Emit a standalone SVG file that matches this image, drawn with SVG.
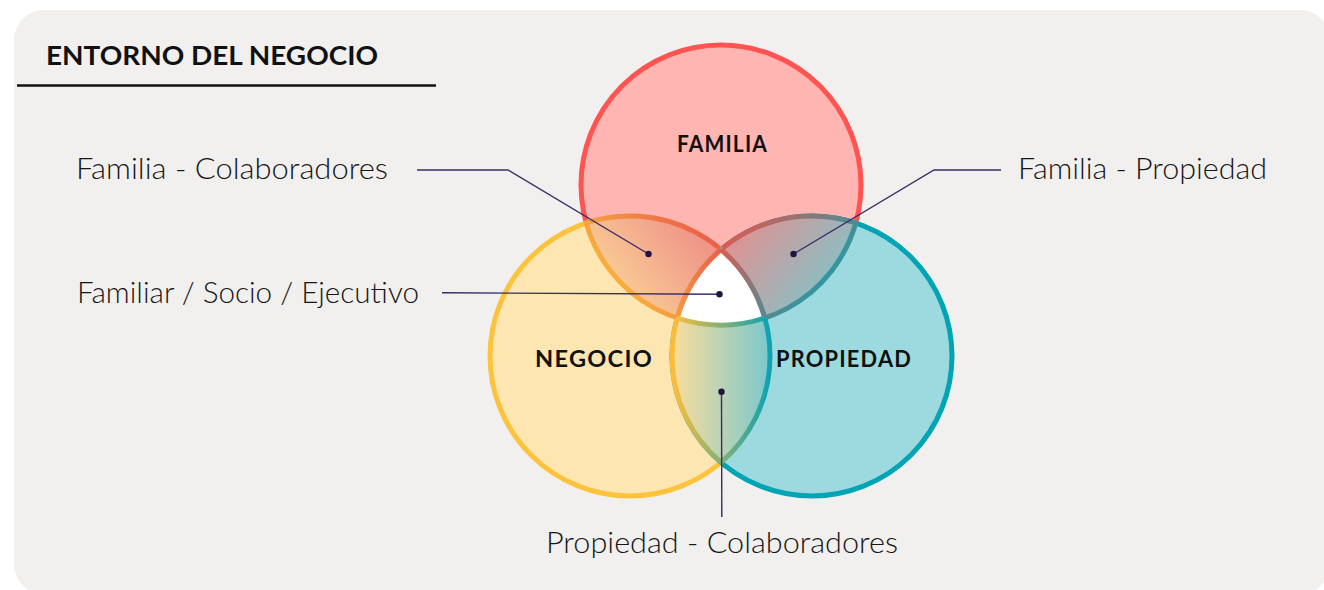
<svg xmlns="http://www.w3.org/2000/svg" width="1324" height="590" viewBox="0 0 1324 590">
  <style>
    .title { font-family: Lato, "Liberation Sans", sans-serif; font-weight: 700; font-size: 26px; fill: #111111; }
    .clabel { font-family: Lato, "Liberation Sans", sans-serif; font-weight: 700; font-size: 22px; fill: #111111; letter-spacing: 1.2px; }
    .label { font-family: Lato, "Liberation Sans", sans-serif; font-weight: 300; font-size: 29px; fill: #161616; }
    .leader { fill: none; stroke: #3A2C68; stroke-width: 1.4; }
    .dot { fill: #1F1442; }
    .ring { stroke-width: 5; }
    .edge { fill: none; stroke-width: 5; }
  </style>
  <defs>
    <linearGradient id="gFNs" gradientUnits="userSpaceOnUse" x1="718" y1="228" x2="615" y2="312">
      <stop offset="0" stop-color="#E9564D"/>
      <stop offset="1" stop-color="#FBBE3B"/>
    </linearGradient>
    <linearGradient id="gFNf" gradientUnits="userSpaceOnUse" x1="718" y1="228" x2="615" y2="312">
      <stop offset="0" stop-color="#ED8A86"/>
      <stop offset="1" stop-color="#FBD596"/>
    </linearGradient>
    <linearGradient id="gFPs" gradientUnits="userSpaceOnUse" x1="724" y1="228" x2="827" y2="312">
      <stop offset="0" stop-color="#E9564D"/>
      <stop offset="1" stop-color="#0FA2B0"/>
    </linearGradient>
    <linearGradient id="gFPf" gradientUnits="userSpaceOnUse" x1="724" y1="228" x2="827" y2="312">
      <stop offset="0" stop-color="#E98D8E"/>
      <stop offset="1" stop-color="#7DC6CB"/>
    </linearGradient>
    <linearGradient id="gNPs" gradientUnits="userSpaceOnUse" x1="674" y1="0" x2="768" y2="0">
      <stop offset="0" stop-color="#FBBE3B"/>
      <stop offset="1" stop-color="#0FA3B1"/>
    </linearGradient>
    <linearGradient id="gNPf" gradientUnits="userSpaceOnUse" x1="674" y1="0" x2="768" y2="0">
      <stop offset="0" stop-color="#F8DD9C"/>
      <stop offset="1" stop-color="#7DC8CD"/>
    </linearGradient>
  </defs>

  <rect x="14" y="10" width="1316" height="584" rx="30" fill="#F1F0EE"/>

  <g id="title">
    <text class="title" x="46" y="65" textLength="332" lengthAdjust="spacingAndGlyphs">ENTORNO DEL NEGOCIO</text>
    <line x1="17" y1="85.5" x2="436" y2="85.5" stroke="#111111" stroke-width="2.5"/>
  </g>

  <g id="circle-familia">
    <circle class="ring" cx="721" cy="185" r="140" fill="#FFB6B3" stroke="#FF5451"/>
  </g>
  <g id="circle-negocio">
    <circle class="ring" cx="630" cy="356" r="140" fill="#FDE6B1" stroke="#FDC33C"/>
  </g>
  <g id="circle-propiedad">
    <circle class="ring" cx="812" cy="356" r="140" fill="#9CDAE0" stroke="#00A4B4"/>
  </g>

  <g id="overlap-familia-negocio">
    <path d="M 586.25 223 A 140 140 0 0 1 764.75 318 A 140 140 0 0 1 586.25 223 Z" fill="url(#gFNf)" stroke="url(#gFNs)" stroke-width="5"/>
  </g>
  <g id="overlap-familia-propiedad">
    <path d="M 677.25 318 A 140 140 0 0 1 855.75 223 A 140 140 0 0 1 677.25 318 Z" fill="url(#gFPf)" stroke="url(#gFPs)" stroke-width="5"/>
  </g>
  <g id="overlap-negocio-propiedad">
    <path d="M 721 249.6 A 140 140 0 0 1 721 462.4 A 140 140 0 0 1 721 249.6 Z" fill="url(#gNPf)" stroke="url(#gNPs)" stroke-width="5"/>
  </g>
  <g id="overlap-center">
    <path d="M 721 249.6 A 140 140 0 0 1 764.75 318 A 140 140 0 0 1 677.25 318 A 140 140 0 0 1 721 249.6 Z" fill="#FFFFFF"/>
    <path class="edge" d="M 677.25 318 A 140 140 0 0 1 721 249.6" stroke="url(#gFNs)"/>
    <path class="edge" d="M 721 249.6 A 140 140 0 0 1 764.75 318" stroke="url(#gFPs)"/>
    <path class="edge" d="M 764.75 318 A 140 140 0 0 1 677.25 318" stroke="url(#gNPs)"/>
  </g>

  <g id="circle-labels">
    <text class="clabel" x="677" y="152" textLength="91" lengthAdjust="spacingAndGlyphs">FAMILIA</text>
    <text class="clabel" x="535" y="367" textLength="118" lengthAdjust="spacingAndGlyphs">NEGOCIO</text>
    <text class="clabel" x="776" y="367" textLength="136" lengthAdjust="spacingAndGlyphs">PROPIEDAD</text>
  </g>

  <g id="connectors">
    <path class="leader" d="M 417 170 H 508 L 648.5 254"/>
    <circle class="dot" cx="648.5" cy="254" r="3.2"/>
    <path class="leader" d="M 1001 170 H 934 L 793.5 254"/>
    <circle class="dot" cx="793.5" cy="254" r="3.2"/>
    <path class="leader" d="M 442 292.7 L 719.5 294.3"/>
    <circle class="dot" cx="719.5" cy="294.3" r="3.2"/>
    <path class="leader" d="M 721.5 391.7 L 721.8 517"/>
    <circle class="dot" cx="721.5" cy="391.7" r="3.2"/>
  </g>

  <g id="labels">
    <text class="label" x="76" y="179" textLength="312" lengthAdjust="spacingAndGlyphs">Familia - Colaboradores</text>
    <text class="label" x="1018" y="179" textLength="249" lengthAdjust="spacingAndGlyphs">Familia - Propiedad</text>
    <text class="label" x="77" y="303" textLength="342" lengthAdjust="spacingAndGlyphs">Familiar / Socio / Ejecutivo</text>
    <text class="label" x="546" y="553" textLength="352" lengthAdjust="spacingAndGlyphs">Propiedad - Colaboradores</text>
  </g>
</svg>
